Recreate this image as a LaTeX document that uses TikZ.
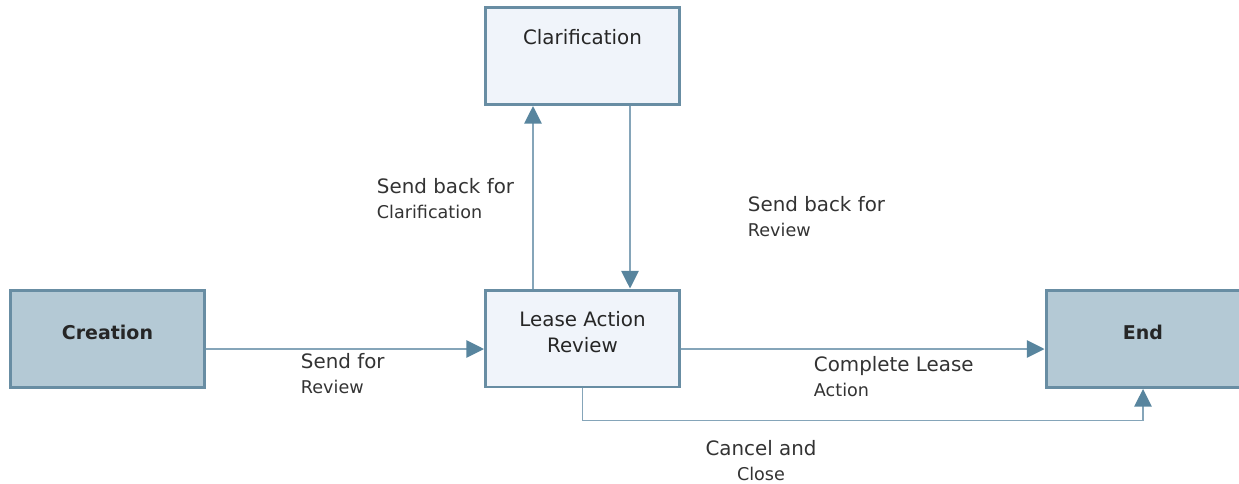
\documentclass[tikz,border=0pt]{standalone}
\usepackage{fontspec}
\setmainfont{DejaVu Sans}
\usepackage{xcolor}
\usetikzlibrary{calc,arrows.meta}
\definecolor{cajaborde}{RGB}{104,141,163}
\definecolor{cajaoscura}{RGB}{180,201,213}
\definecolor{cajaclara}{RGB}{240,244,250}
\definecolor{linea}{RGB}{133,165,185}
\definecolor{punta}{RGB}{88,133,158}
\newcommand{\segunda}[1]{{\fontsize{10}{14.2}\selectfont #1}}

\begin{document}
\begin{tikzpicture}[x=0.02cm, y=-0.02cm, line width=1.1pt,
    estado/.style={draw=cajaborde, line width=1.7pt, minimum width=3.88cm,
        minimum height=1.94cm, inner sep=2pt, align=center, text=black!85,
        text depth=7.8pt, font=\fontsize{11.3}{14.7}\selectfont},
    oscuro/.style={estado, fill=cajaoscura, font=\fontsize{10.8}{14.7}\selectfont\bfseries},
    claro/.style={estado, fill=cajaclara},
    conector/.style={draw=linea, line width=1.1pt, -{Triangle[length=10pt,width=9.8pt,fill=punta,color=punta]}},
    etiqueta/.style={inner sep=0pt, align=left, text=black!80,
        font=\fontsize{11.3}{14.2}\selectfont}]
    \useasboundingbox (0,0) rectangle (1239,483);
    % estados
    \node[oscuro] (creacion) at (107.5,339) {Creation};
    \node[claro, text depth=21.5pt] (aclarar) at (582.5,56) {Clarification};
    \node[claro] (revision) at (582.5,338.5) {Lease Action\\Review};
    \node[oscuro] (fin) at (1143,339) {End};
    % transiciones horizontales (10 px bajo el centro)
    \draw[conector] ($(creacion.east)+(0,10)$) -- ($(revision.west)+(0,10.5)$);
    \draw[conector] ($(revision.east)+(0,10.5)$) -- ($(fin.west)+(0,10)$);
    % ida y vuelta con Clarification
    \coordinate (subida) at ($(revision.north)+(-49.5,0)$);
    \draw[conector] (subida) -- (subida |- aclarar.south);
    \coordinate (bajada) at ($(aclarar.south)+(47.5,0)$);
    \draw[conector] (bajada) -- (bajada |- revision.north);
    % cancelar
    \draw[conector] (revision.south) -- ++(0,32) -| (fin.south);
    % etiquetas
    \node[etiqueta, anchor=north west] (lenviar) at (300,352) {Send for\\\segunda{Review}};
    \node[etiqueta, anchor=north west] (laclarar) at (376,177) {Send back for\\\segunda{Clarification}};
    \node[etiqueta, anchor=north west] (lvolver) at (747,195) {Send back for\\\segunda{Review}};
    \node[etiqueta, anchor=north west] (lcompletar) at (813,355) {Complete Lease\\\segunda{Action}};
    \node[etiqueta, anchor=north, align=center] (lcancelar) at (761,439) {Cancel and\\\segunda{Close}};
\end{tikzpicture}
\end{document}
